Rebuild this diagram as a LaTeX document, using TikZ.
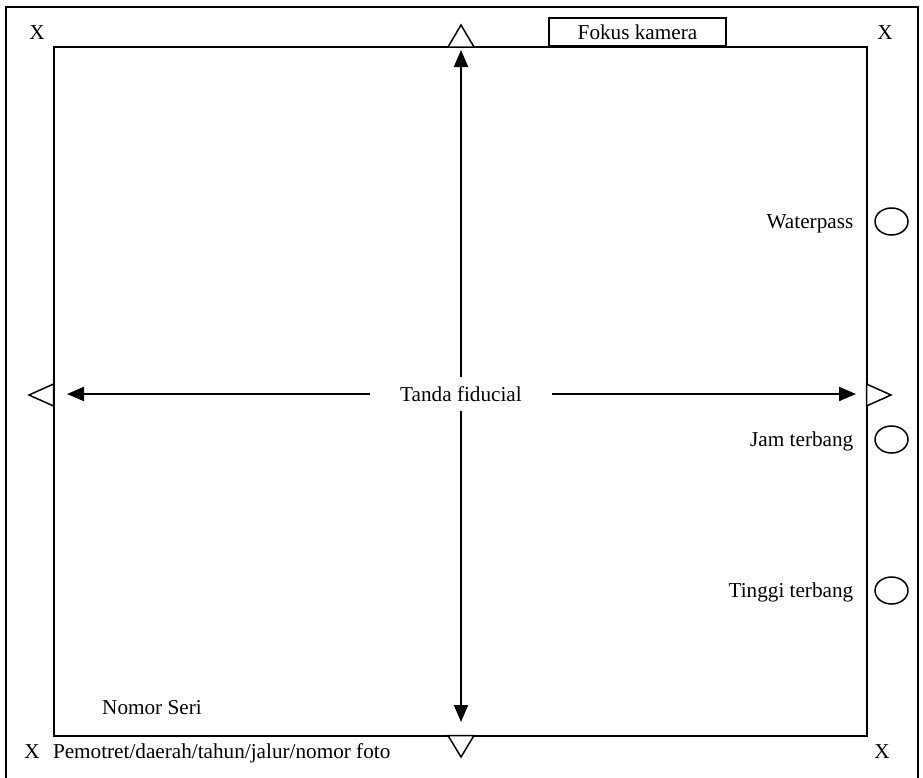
\documentclass[tikz,border=0pt]{standalone}
\usepackage{fontspec}
\setmainfont{Liberation Serif}
\usetikzlibrary{arrows.meta}
\usetikzlibrary{positioning}
\usetikzlibrary{shapes.geometric}

\tikzset{
	ring/.style={draw, ellipse, line width=1.5pt, minimum width=33pt, minimum height=27pt, inner sep=0pt},
	tip/.style={line width=1.5pt, fill=white},
	lbl/.style={inner sep=0pt, yshift=-2pt},
	arr/.style={line width=2pt, -{Triangle[length=17pt, width=14pt]}}
}

\begin{document}
\begin{tikzpicture}[x=1pt, y=-1pt, line width=2pt, font=\fontsize{21.2}{25}\selectfont]
	\useasboundingbox (0,0) rectangle (923,777);
	\draw (6,7) rectangle (918,800);
	\draw (53.5,47) rectangle (866.5,735.5);
	\filldraw[tip] (448,47) -- (461,25) -- (474,47) -- cycle;
	\filldraw[tip] (448,735.5) -- (461,757) -- (474,735.5) -- cycle;
	\filldraw[tip] (53.5,384) -- (29,395) -- (53.5,406) -- cycle;
	\filldraw[tip] (866.5,384) -- (891,395) -- (866.5,406) -- cycle;
	\node[draw, minimum width=177pt, minimum height=28pt, inner sep=0pt] (fk) at (637.5,32) {Fokus kamera};
	\begin{scope}[every node/.style={inner sep=0pt}]
		\node (x1) at (37,33) {X};
		\node (x2) at (885,33) {X};
		\node (x3) at (32,752) {X};
		\node (x4) at (882,752) {X};
		\node[anchor=base west] (ft) at (52,758) {Pemotret/daerah/tahun/jalur/nomor foto};
		\node (ns) at (152,708) {Nomor Seri};
	\end{scope}
	\node[ring] (wp) at (891.5,221.5) {};
	\node[ring] (jt) at (891.5,439.5) {};
	\node[ring] (tt) at (891.5,590.5) {};
	\node[lbl, left=20pt of wp] (wpl) {Waterpass};
	\node[lbl, left=20pt of jt] (jtl) {Jam terbang};
	\node[lbl, left=20pt of tt] (ttl) {Tinggi terbang};
	\node[minimum width=180pt, minimum height=32pt, inner sep=0pt] (fid) at (461,394) {Tanda fiducial};
	\coordinate (tu) at (461,50);
	\coordinate (td) at (461,722);
	\coordinate (tl) at (67,394);
	\coordinate (tr) at (856,394);
	\draw[arr] (fid) -- (tu);
	\draw[arr] (fid) -- (td);
	\draw[arr] (fid) -- (tl);
	\draw[arr] (fid) -- (tr);
\end{tikzpicture}
\end{document}
